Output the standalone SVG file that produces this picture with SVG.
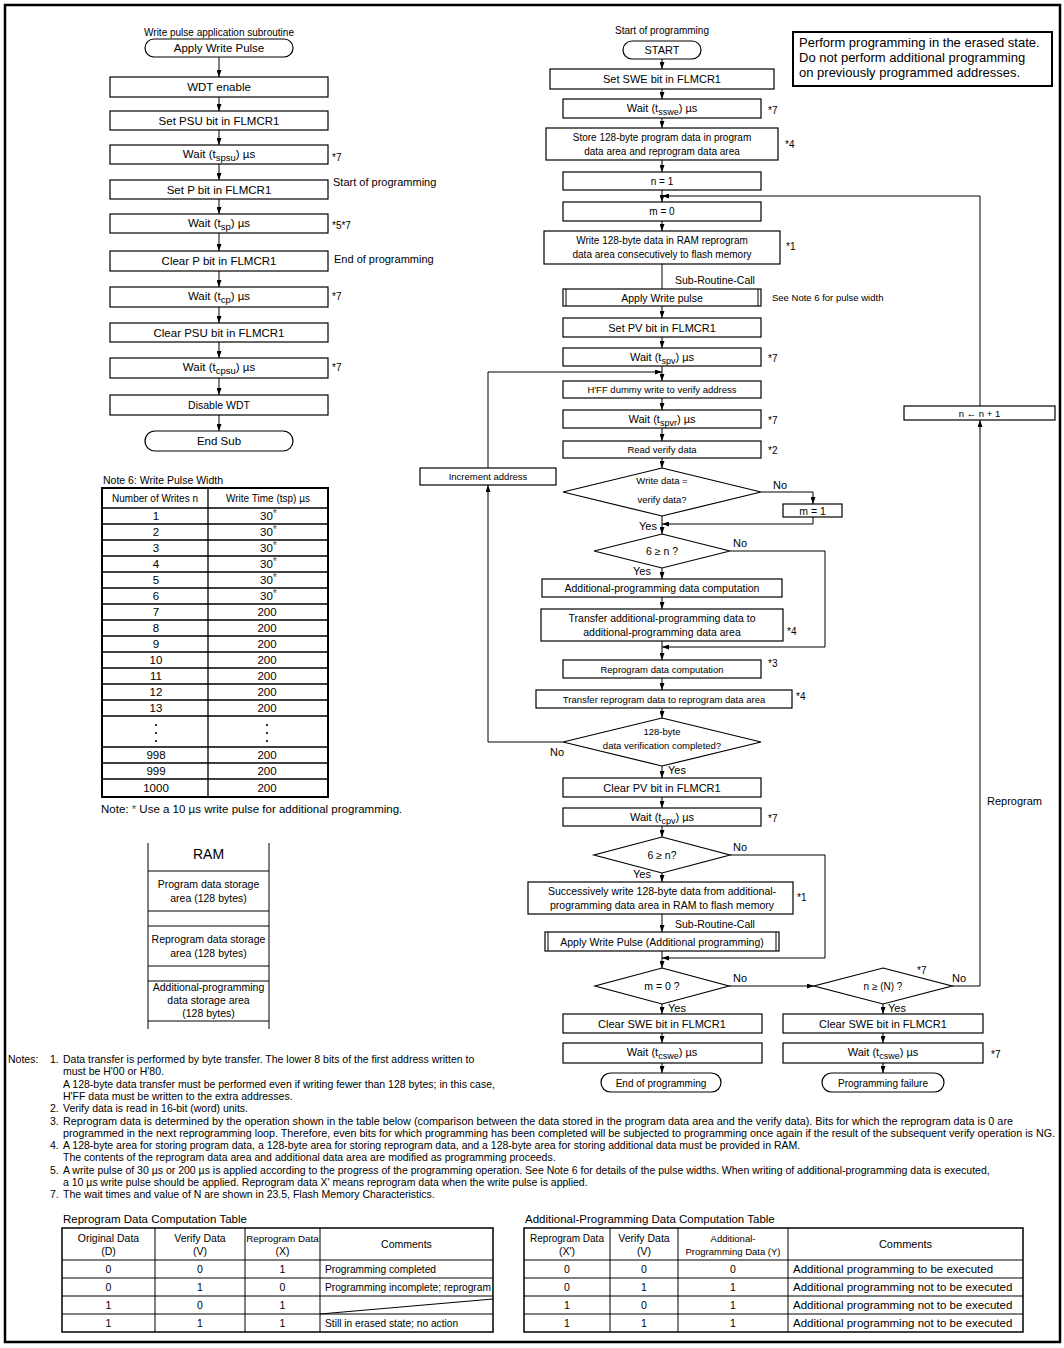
<svg xmlns="http://www.w3.org/2000/svg" width="1064" height="1348" viewBox="0 0 1064 1348">
<defs>
<marker id="ah" viewBox="0 0 7 5" refX="7" refY="2.5" markerWidth="7" markerHeight="5" markerUnits="userSpaceOnUse" orient="auto"><path d="M0,0 L7,2.5 L0,5 z" fill="#000"/></marker>
<style>
text{font-family:"Liberation Sans",Arial,Helvetica,sans-serif;fill:#000}
.b{fill:#fff;stroke:#000;stroke-width:1.2}
.c{fill:none;stroke:#000;stroke-width:1}
.a{fill:none;stroke:#000;stroke-width:1;marker-end:url(#ah)}
.m{text-anchor:middle}
.e{text-anchor:end}
.f9{font-size:9.5px}
.f10{font-size:10px}
.f105{font-size:10.5px}
.f11{font-size:11px}
.f115{font-size:11.5px}
.f13{font-size:13px}
.tl{stroke:#000;stroke-width:1.3;fill:none}
.tt{stroke:#000;stroke-width:2;fill:none}
.n{font-size:10.5px}
.ast{fill:#555}
</style>
</defs>
<rect x="0" y="0" width="1064" height="1348" fill="#fff"/>
<rect x="5" y="5" width="1055" height="1337" fill="none" stroke="#000" stroke-width="2.5"/>

<!-- LEFT SUBROUTINE FLOWCHART -->
<g id="left-chart">
<text x="219" y="36" class="m f10">Write pulse application subroutine</text>
<g id="L-apply"><rect class="b" x="145" y="39" width="148" height="18" rx="9"/><text x="219" y="52" class="m f115">Apply Write Pulse</text></g>
<g id="L-wdt"><rect class="b" x="110" y="77" width="218" height="20"/><text x="219" y="91" class="m f115">WDT enable</text></g>
<g id="L-psu"><rect class="b" x="110" y="111" width="218" height="19"/><text x="219" y="124.5" class="m f115">Set PSU bit in FLMCR1</text></g>
<g id="L-wspsu"><rect class="b" x="110" y="145" width="218" height="19"/><text x="219" y="158" class="m f115">Wait (t<tspan dy="3" font-size="9.5">spsu</tspan><tspan dy="-3">) µs</tspan></text><text x="332" y="161" class="f10">*7</text></g>
<g id="L-setp"><rect class="b" x="110" y="180" width="218" height="19"/><text x="219" y="193.5" class="m f115">Set P bit in FLMCR1</text><text x="333" y="186" class="f11">Start of programming</text></g>
<g id="L-wsp"><rect class="b" x="110" y="214" width="218" height="19"/><text x="219" y="227" class="m f115">Wait (t<tspan dy="3" font-size="9.5">sp</tspan><tspan dy="-3">) µs</tspan></text><text x="332" y="229" class="f10">*5*7</text></g>
<g id="L-clrp"><rect class="b" x="110" y="251" width="218" height="20"/><text x="219" y="265" class="m f115">Clear P bit in FLMCR1</text><text x="334" y="263" class="f11">End of programming</text></g>
<g id="L-wcp"><rect class="b" x="110" y="287" width="218" height="20"/><text x="219" y="300" class="m f115">Wait (t<tspan dy="3" font-size="9.5">cp</tspan><tspan dy="-3">) µs</tspan></text><text x="332" y="300" class="f10">*7</text></g>
<g id="L-clrpsu"><rect class="b" x="110" y="323" width="218" height="19"/><text x="219" y="336.5" class="m f115">Clear PSU bit in FLMCR1</text></g>
<g id="L-wcpsu"><rect class="b" x="110" y="358" width="218" height="20"/><text x="219" y="371" class="m f115">Wait (t<tspan dy="3" font-size="9.5">cpsu</tspan><tspan dy="-3">) µs</tspan></text><text x="332" y="371" class="f10">*7</text></g>
<g id="L-dwdt"><rect class="b" x="110" y="395" width="218" height="20"/><text x="219" y="409" class="m f105">Disable WDT</text></g>
<g id="L-end"><rect class="b" x="145" y="431" width="148" height="20" rx="10"/><text x="219" y="445" class="m f115">End Sub</text></g>
</g>

<!-- NOTE 6 TABLE -->
<g id="note6">
<text x="103" y="484" class="f105">Note 6:  Write Pulse Width</text>
<rect class="tt" x="102" y="488" width="226" height="309"/>
<path class="tl" d="M208,488V797 M102,508H328 M102,524H328 M102,540H328 M102,556H328 M102,572H328 M102,588H328 M102,604H328 M102,620H328 M102,636H328 M102,652H328 M102,668H328 M102,684H328 M102,700H328 M102,716H328 M102,747H328 M102,763H328 M102,779H328"/>
<text x="155" y="502" class="m f10">Number of Writes n</text>
<text x="268" y="502" class="m f10">Write Time (tsp) µs</text>
<g class="f115">
<text x="156" y="520" class="m">1</text><text x="260" y="520">30<tspan class="ast" dy="-3" font-size="10.5">*</tspan></text>
<text x="156" y="536" class="m">2</text><text x="260" y="536">30<tspan class="ast" dy="-3" font-size="10.5">*</tspan></text>
<text x="156" y="552" class="m">3</text><text x="260" y="552">30<tspan class="ast" dy="-3" font-size="10.5">*</tspan></text>
<text x="156" y="568" class="m">4</text><text x="260" y="568">30<tspan class="ast" dy="-3" font-size="10.5">*</tspan></text>
<text x="156" y="584" class="m">5</text><text x="260" y="584">30<tspan class="ast" dy="-3" font-size="10.5">*</tspan></text>
<text x="156" y="600" class="m">6</text><text x="260" y="600">30<tspan class="ast" dy="-3" font-size="10.5">*</tspan></text>
<text x="156" y="616" class="m">7</text><text x="267" y="616" class="m">200</text>
<text x="156" y="632" class="m">8</text><text x="267" y="632" class="m">200</text>
<text x="156" y="648" class="m">9</text><text x="267" y="648" class="m">200</text>
<text x="156" y="664" class="m">10</text><text x="267" y="664" class="m">200</text>
<text x="156" y="680" class="m">11</text><text x="267" y="680" class="m">200</text>
<text x="156" y="696" class="m">12</text><text x="267" y="696" class="m">200</text>
<text x="156" y="712" class="m">13</text><text x="267" y="712" class="m">200</text>
<text x="156" y="759" class="m">998</text><text x="267" y="759" class="m">200</text>
<text x="156" y="775" class="m">999</text><text x="267" y="775" class="m">200</text>
<text x="156" y="792" class="m">1000</text><text x="267" y="792" class="m">200</text>
</g>
<g fill="#000"><circle cx="156" cy="725" r="1.1"/><circle cx="156" cy="733" r="1.1"/><circle cx="156" cy="741" r="1.1"/><circle cx="267" cy="725" r="1.1"/><circle cx="267" cy="733" r="1.1"/><circle cx="267" cy="741" r="1.1"/></g>
<text x="101" y="813" class="f115">Note: <tspan class="ast">*</tspan> Use a 10 µs write pulse for additional programming.</text>
</g>

<!-- RAM MAP -->
<g id="ram">
<path class="c" d="M148,843V1029 M269,843V1029 M148,871H269 M148,911H269 M148,926H269 M148,966H269 M148,981H269 M148,1021H269"/>
<text x="208.5" y="859" class="m" font-size="14">RAM</text>
<text x="208.5" y="888" class="m f105">Program data storage</text>
<text x="208.5" y="902" class="m f105">area (128 bytes)</text>
<text x="208.5" y="943" class="m f105">Reprogram data storage</text>
<text x="208.5" y="957" class="m f105">area (128 bytes)</text>
<text x="208.5" y="991" class="m f105">Additional-programming</text>
<text x="208.5" y="1004" class="m f105">data storage area</text>
<text x="208.5" y="1017" class="m f105">(128 bytes)</text>
</g>

<!-- NOTE BOX -->
<g id="erased-note">
<rect x="793" y="32" width="259" height="54" fill="#fff" stroke="#000" stroke-width="2"/>
<text x="799" y="47" class="f13">Perform programming in the erased state.</text>
<text x="799" y="62" class="f13">Do not perform additional programming</text>
<text x="799" y="77" class="f13">on previously programmed addresses.</text>
</g>

<!-- RIGHT MAIN FLOWCHART -->
<g id="right-chart">
<text x="662" y="34" class="m f10">Start of programming</text>
<g id="R-start"><rect class="b" x="623" y="41" width="78" height="18" rx="9"/><text x="662" y="54" class="m f11">START</text></g>
<g id="R-swe"><rect class="b" x="550" y="69" width="224" height="20"/><text x="662" y="83" class="m f11">Set SWE bit in FLMCR1</text></g>
<g id="R-wsswe"><rect class="b" x="563" y="99" width="198" height="19"/><text x="662" y="112" class="m f11">Wait (t<tspan dy="3" font-size="9">sswe</tspan><tspan dy="-3">) µs</tspan></text><text x="768" y="114" class="f10">*7</text></g>
<g id="R-store"><rect class="b" x="546" y="128" width="232" height="32"/><text x="662" y="141" class="m f10">Store 128-byte program data in program</text><text x="662" y="155" class="m f10">data area and reprogram data area</text><text x="785" y="148" class="f10">*4</text></g>
<g id="R-n1"><rect class="b" x="563" y="172" width="198" height="18"/><text x="662" y="185" class="m f10">n = 1</text></g>
<g id="R-m0"><rect class="b" x="563" y="202" width="198" height="19"/><text x="662" y="215" class="m f10">m = 0</text></g>
<g id="R-write"><rect class="b" x="544" y="231" width="236" height="33"/><text x="662" y="244" class="m f10">Write 128-byte data in RAM reprogram</text><text x="662" y="258" class="m f10">data area consecutively to flash memory</text><text x="786" y="250" class="f10">*1</text></g>
<text x="675" y="284" class="f105">Sub-Routine-Call</text>
<g id="R-applywp"><rect class="b" x="563" y="289" width="198" height="17"/><path class="c" d="M566,289V306 M758,289V306"/><text x="662" y="301.5" class="m f105">Apply Write pulse</text><text x="772" y="301" class="f9">See Note 6 for pulse width</text></g>
<g id="R-setpv"><rect class="b" x="563" y="318" width="198" height="19"/><text x="662" y="331.5" class="m f11">Set PV bit in FLMCR1</text></g>
<g id="R-wspv"><rect class="b" x="563" y="348" width="198" height="18"/><text x="662" y="360.5" class="m f11">Wait (t<tspan dy="3" font-size="9">spv</tspan><tspan dy="-3">) µs</tspan></text><text x="768" y="362" class="f10">*7</text></g>
<g id="R-hff"><rect class="b" x="563" y="381" width="198" height="17"/><text x="662" y="393" class="m f9">H'FF dummy write to verify address</text></g>
<g id="R-wspvr"><rect class="b" x="563" y="410" width="198" height="18"/><text x="662" y="422.5" class="m f11">Wait (t<tspan dy="3" font-size="9">spvr</tspan><tspan dy="-3">) µs</tspan></text><text x="768" y="424" class="f10">*7</text></g>
<g id="R-read"><rect class="b" x="563" y="441" width="198" height="17"/><text x="662" y="453" class="m f9">Read verify data</text><text x="768" y="454" class="f10">*2</text></g>
<g id="R-d1"><polygon class="b" points="662,468 761,492 662,516 563,492"/><text x="662" y="484" class="m f9">Write data =</text><text x="662" y="503" class="m f9">verify data?</text></g>
<g id="R-m1"><rect class="b" x="783" y="504" width="59" height="13"/><text x="812.5" y="514.5" class="m f105">m = 1</text></g>
<g id="R-d2"><polygon class="b" points="662,534 730,551 662,568 594,551"/><text x="662" y="555" class="m f105">6 ≥ n ?</text></g>
<g id="R-addcomp"><rect class="b" x="542" y="579" width="240" height="18"/><text x="662" y="592" class="m f105">Additional-programming data computation</text></g>
<g id="R-addxfer"><rect class="b" x="541" y="609" width="242" height="32"/><text x="662" y="622" class="m f105">Transfer additional-programming data to</text><text x="662" y="636" class="m f105">additional-programming data area</text><text x="787" y="635" class="f10">*4</text></g>
<g id="R-repcomp"><rect class="b" x="563" y="660" width="198" height="18"/><text x="662" y="673" class="m f9">Reprogram data computation</text><text x="768" y="667" class="f10">*3</text></g>
<g id="R-repxfer"><rect class="b" x="536" y="690" width="256" height="18"/><text x="664" y="703" class="m f9">Transfer reprogram data to reprogram data area</text><text x="796" y="700" class="f10">*4</text></g>
<g id="R-d3"><polygon class="b" points="662,718 761,742 662,766 563,742"/><text x="662" y="735" class="m f9">128-byte</text><text x="662" y="749" class="m f9">data verification completed?</text></g>
<g id="R-inc"><rect class="b" x="420" y="468" width="136" height="17"/><text x="488" y="480" class="m f9">Increment address</text></g>
<g id="R-clrpv"><rect class="b" x="563" y="778" width="198" height="19"/><text x="662" y="791.5" class="m f11">Clear PV bit in FLMCR1</text></g>
<g id="R-wcpv"><rect class="b" x="563" y="808" width="198" height="18"/><text x="662" y="820.5" class="m f11">Wait (t<tspan dy="3" font-size="9">cpv</tspan><tspan dy="-3">) µs</tspan></text><text x="768" y="822" class="f10">*7</text></g>
<g id="R-d4"><polygon class="b" points="662,837 730,855 662,873 594,855"/><text x="662" y="859" class="m f105">6 ≥ n?</text></g>
<g id="R-succ"><rect class="b" x="528" y="882" width="265" height="32"/><text x="662" y="895" class="m f105">Successively write 128-byte data from additional-</text><text x="662" y="909" class="m f105">programming data area in RAM to flash memory</text><text x="797" y="901" class="f10">*1</text></g>
<text x="675" y="928" class="f105">Sub-Routine-Call</text>
<g id="R-applyadd"><rect class="b" x="545" y="932" width="234" height="19"/><path class="c" d="M548,932V951 M776,932V951"/><text x="662" y="945.5" class="m f105">Apply Write Pulse (Additional programming)</text></g>
<g id="R-d5"><polygon class="b" points="662,968 729,986 662,1004 595,986"/><text x="662" y="990" class="m f105">m = 0 ?</text></g>
<g id="R-d6"><polygon class="b" points="883,968 952,986 883,1004 814,986"/><text x="883" y="990" class="m f10">n ≥ (N) ?</text><text x="917" y="974" class="f10">*7</text></g>
<g id="R-clrswe1"><rect class="b" x="563" y="1014" width="199" height="19"/><text x="662" y="1027.5" class="m f11">Clear SWE bit in FLMCR1</text></g>
<g id="R-wcswe1"><rect class="b" x="563" y="1043" width="199" height="20"/><text x="662" y="1056" class="m f11">Wait (t<tspan dy="3" font-size="9">cswe</tspan><tspan dy="-3">) µs</tspan></text></g>
<g id="R-endprog"><rect class="b" x="601" y="1073" width="120" height="19" rx="9.5"/><text x="661" y="1086.5" class="m f10">End of programming</text></g>
<g id="R-clrswe2"><rect class="b" x="783" y="1014" width="200" height="19"/><text x="883" y="1027.5" class="m f11">Clear SWE bit in FLMCR1</text></g>
<g id="R-wcswe2"><rect class="b" x="783" y="1043" width="200" height="20"/><text x="883" y="1056" class="m f11">Wait (t<tspan dy="3" font-size="9">cswe</tspan><tspan dy="-3">) µs</tspan></text><text x="991" y="1058" class="f10">*7</text></g>
<g id="R-fail"><rect class="b" x="822" y="1073" width="122" height="19" rx="9.5"/><text x="883" y="1086.5" class="m f10">Programming failure</text></g>
<g id="R-ninc"><rect class="b" x="904" y="406" width="151" height="14"/><text x="979.5" y="416.5" class="m f9">n ← n + 1</text></g>
</g>

<!-- CONNECTORS -->
<g id="connectors">
<path class="a" d="M219,57V77"/>
<path class="a" d="M219,97V111"/>
<path class="a" d="M219,130V145"/>
<path class="a" d="M219,164V180"/>
<path class="a" d="M219,199V214"/>
<path class="a" d="M219,233V251"/>
<path class="a" d="M219,271V287"/>
<path class="a" d="M219,307V323"/>
<path class="a" d="M219,342V358"/>
<path class="a" d="M219,378V395"/>
<path class="a" d="M219,415V431"/>

<path class="a" d="M662,59V69"/>
<path class="a" d="M662,89V99"/>
<path class="a" d="M662,118V128"/>
<path class="a" d="M662,160V172"/>
<path class="a" d="M662,190V202"/>
<path class="a" d="M662,221V231"/>
<path class="c" d="M662,264V289"/>
<path class="a" d="M662,306V318"/>
<path class="a" d="M662,337V348"/>
<path class="a" d="M662,366V381"/>
<path class="a" d="M662,398V410"/>
<path class="a" d="M662,428V441"/>
<path class="a" d="M662,458V468"/>
<path class="a" d="M761,492H813V504"/>
<path class="a" d="M813,517V524H662"/>
<path class="a" d="M662,516V534"/>
<path class="a" d="M730,551H825V647H662"/>
<path class="a" d="M662,568V579"/>
<path class="a" d="M662,597V609"/>
<path class="a" d="M662,641V660"/>
<path class="a" d="M662,678V690"/>
<path class="a" d="M662,708V718"/>
<path class="a" d="M563,742H488V485"/>
<path class="a" d="M488,468V372H662"/>
<path class="a" d="M662,766V778"/>
<path class="a" d="M662,797V808"/>
<path class="a" d="M662,826V837"/>
<path class="a" d="M730,855H825V958H662"/>
<path class="a" d="M662,873V882"/>
<path class="a" d="M662,914V932"/>
<path class="a" d="M662,951V968"/>
<path class="a" d="M729,986H814"/>
<path class="a" d="M952,986H980V420"/>
<path class="a" d="M980,406V196H662"/>
<path class="a" d="M662,1004V1014"/>
<path class="a" d="M662,1033V1043"/>
<path class="a" d="M662,1063V1073"/>
<path class="a" d="M883,1004V1014"/>
<path class="a" d="M883,1033V1043"/>
<path class="a" d="M883,1063V1073"/>

<g class="f11">
<text x="773" y="489">No</text>
<text x="657" y="530" class="e">Yes</text>
<text x="733" y="547">No</text>
<text x="651" y="575" class="e">Yes</text>
<text x="550" y="756">No</text>
<text x="668" y="774">Yes</text>
<text x="733" y="851">No</text>
<text x="651" y="878" class="e">Yes</text>
<text x="733" y="982">No</text>
<text x="668" y="1012">Yes</text>
<text x="952" y="982">No</text>
<text x="888" y="1012">Yes</text>
<text x="987" y="805">Reprogram</text>
</g>
</g>

<!-- NOTES -->
<g id="notes" class="n">
<text x="8" y="1063">Notes:</text>
<text x="50" y="1063">1.</text><text x="63" y="1063">Data transfer is performed by byte transfer. The lower 8 bits of the first address written to</text>
<text x="63" y="1075.3">must be H'00 or H'80.</text>
<text x="63" y="1087.6">A 128-byte data transfer must be performed even if writing fewer than 128 bytes; in this case,</text>
<text x="63" y="1099.9">H'FF data must be written to the extra addresses.</text>
<text x="50" y="1112.2">2.</text><text x="63" y="1112.2">Verify data is read in 16-bit (word) units.</text>
<text x="50" y="1124.5">3.</text><text x="63" y="1124.5" textLength="950" lengthAdjust="spacingAndGlyphs">Reprogram data is determined by the operation shown in the table below (comparison between the data stored in the program data area and the verify data). Bits for which the reprogram data is 0 are</text>
<text x="63" y="1136.8" textLength="992" lengthAdjust="spacingAndGlyphs">programmed in the next reprogramming loop. Therefore, even bits for which programming has been completed will be subjected to programming once again if the result of the subsequent verify operation is NG.</text>
<text x="50" y="1149.1">4.</text><text x="63" y="1149.1">A 128-byte area for storing program data, a 128-byte area for storing reprogram data, and a 128-byte area for storing additional data must be provided in RAM.</text>
<text x="63" y="1161.4">The contents of the reprogram data area and additional data area are modified as programming proceeds.</text>
<text x="50" y="1173.7">5.</text><text x="63" y="1173.7">A write pulse of 30 µs or 200 µs is applied according to the progress of the programming operation. See Note 6 for details of the pulse widths. When writing of additional-programming data is executed,</text>
<text x="63" y="1186">a 10 µs write pulse should be applied. Reprogram data X' means reprogram data when the write pulse is applied.</text>
<text x="50" y="1198.3">7.</text><text x="63" y="1198.3">The wait times and value of N are shown in 23.5, Flash Memory Characteristics.</text>
</g>

<!-- REPROGRAM DATA COMPUTATION TABLE -->
<g id="reprog-table">
<text x="63" y="1223" class="f115">Reprogram Data Computation Table</text>
<rect x="62" y="1228" width="431" height="104" fill="none" stroke="#000" stroke-width="1.5"/>
<path class="c" d="M155,1228V1332 M245,1228V1332 M320,1228V1332 M62,1260H493 M62,1278H493 M62,1296H493 M62,1314H493 M320,1314L493,1299"/>
<g class="f105">
<text x="108.5" y="1241.5" class="m">Original Data</text><text x="108.5" y="1254.5" class="m">(D)</text>
<text x="200" y="1241.5" class="m">Verify Data</text><text x="200" y="1254.5" class="m">(V)</text>
<text x="282.5" y="1241.5" class="m" font-size="9.8">Reprogram Data</text><text x="282.5" y="1254.5" class="m">(X)</text>
<text x="406.5" y="1248" class="m">Comments</text>
<text x="108.5" y="1273" class="m">0</text><text x="200" y="1273" class="m">0</text><text x="282.5" y="1273" class="m">1</text><text x="325" y="1273" font-size="10.2">Programming completed</text>
<text x="108.5" y="1291" class="m">0</text><text x="200" y="1291" class="m">1</text><text x="282.5" y="1291" class="m">0</text><text x="325" y="1291" font-size="10.2">Programming incomplete; reprogram</text>
<text x="108.5" y="1309" class="m">1</text><text x="200" y="1309" class="m">0</text><text x="282.5" y="1309" class="m">1</text>
<text x="108.5" y="1327" class="m">1</text><text x="200" y="1327" class="m">1</text><text x="282.5" y="1327" class="m">1</text><text x="325" y="1327" font-size="10.2">Still in erased state; no action</text>
</g>
</g>

<!-- ADDITIONAL-PROGRAMMING DATA COMPUTATION TABLE -->
<g id="addprog-table">
<text x="525" y="1223" class="f115">Additional-Programming Data Computation Table</text>
<rect x="524" y="1228" width="499" height="104" fill="none" stroke="#000" stroke-width="1.5"/>
<path class="c" d="M610,1228V1332 M678,1228V1332 M788,1228V1332 M524,1260H1023 M524,1278H1023 M524,1296H1023 M524,1314H1023"/>
<g class="f105">
<text x="567" y="1241.5" class="m" font-size="10">Reprogram Data</text><text x="567" y="1254.5" class="m">(X')</text>
<text x="644" y="1241.5" class="m">Verify Data</text><text x="644" y="1254.5" class="m">(V)</text>
<text x="733" y="1241.5" class="m" font-size="9.5">Additional-</text><text x="733" y="1254.5" class="m" font-size="9.5">Programming Data (Y)</text>
<text x="905.5" y="1248" class="m f11">Comments</text>
<text x="567" y="1273" class="m">0</text><text x="644" y="1273" class="m">0</text><text x="733" y="1273" class="m">0</text><text x="793" y="1273" font-size="11.5">Additional programming to be executed</text>
<text x="567" y="1291" class="m">0</text><text x="644" y="1291" class="m">1</text><text x="733" y="1291" class="m">1</text><text x="793" y="1291" font-size="11.5">Additional programming not to be executed</text>
<text x="567" y="1309" class="m">1</text><text x="644" y="1309" class="m">0</text><text x="733" y="1309" class="m">1</text><text x="793" y="1309" font-size="11.5">Additional programming not to be executed</text>
<text x="567" y="1327" class="m">1</text><text x="644" y="1327" class="m">1</text><text x="733" y="1327" class="m">1</text><text x="793" y="1327" font-size="11.5">Additional programming not to be executed</text>
</g>
</g>
</svg>
